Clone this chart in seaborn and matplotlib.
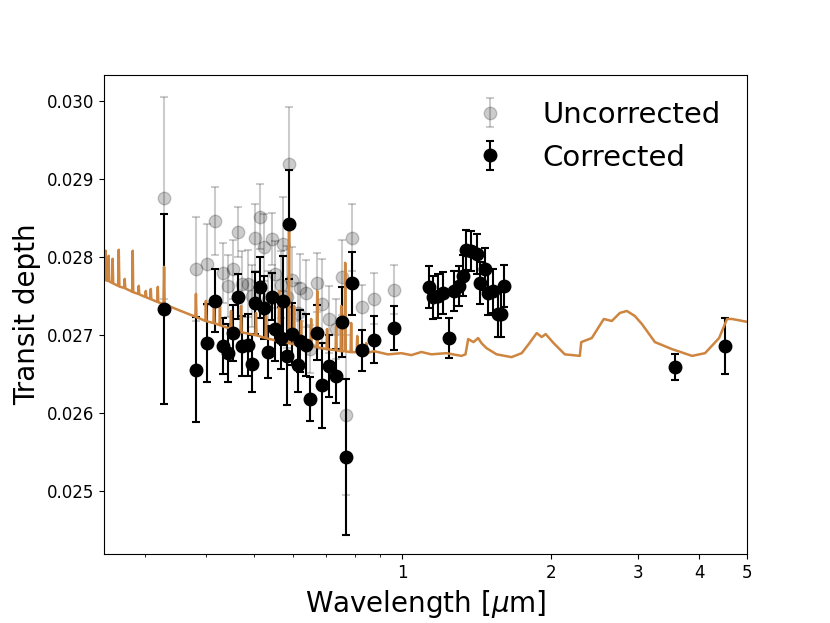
import numpy as np
import matplotlib
matplotlib.use("Agg")
import matplotlib.pyplot as plt
import seaborn as sns
from matplotlib.ticker import FixedLocator, FixedFormatter, NullFormatter, FormatStrFormatter

# optical data (corrected / uncorrected)
opt_wl = [0.329, 0.381, 0.402, 0.417, 0.432, 0.442, 0.454, 0.464, 0.472, 0.486,
          0.495, 0.503, 0.514, 0.523, 0.533, 0.544, 0.552, 0.568, 0.574, 0.584,
          0.590, 0.598, 0.614, 0.621, 0.638, 0.651, 0.671, 0.687, 0.710, 0.732,
          0.754, 0.767, 0.790, 0.829, 0.875, 0.962]
opt_depth = [0.02733, 0.026555, 0.02690, 0.02744, 0.026856, 0.02677, 0.02702, 0.02749, 0.026856, 0.02687,
             0.02663, 0.02741, 0.02761, 0.02735, 0.02678, 0.02749, 0.02707, 0.02696, 0.02744, 0.02673,
             0.02842, 0.02701, 0.02661, 0.02692, 0.02687, 0.02618, 0.02703, 0.02635, 0.02660, 0.02647,
             0.02716, 0.025429, 0.02766, 0.02680, 0.02694, 0.02709]
opt_err = [0.00122, 0.00068, 0.00050, 0.00040, 0.00036, 0.00037, 0.00036, 0.00029, 0.00039, 0.00040,
           0.00037, 0.00040, 0.00039, 0.00040, 0.00033, 0.00030, 0.00040, 0.00040, 0.00057, 0.00063,
           0.00070, 0.00040, 0.00035, 0.00040, 0.00040, 0.00028, 0.00035, 0.00055, 0.00040, 0.00035,
           0.00045, 0.00100, 0.00040, 0.00026, 0.00030, 0.00028]
unc_depth = [0.028759, 0.027844, 0.027906, 0.028460, 0.027796, 0.027629, 0.027844, 0.028316, 0.027651, 0.027658,
             0.027500, 0.028247, 0.028518, 0.028122, 0.027461, 0.028231, 0.027780, 0.027642, 0.028164, 0.027487,
             0.029197, 0.027702, 0.027285, 0.027607, 0.027532, 0.026817, 0.027671, 0.027393, 0.027200, 0.027075,
             0.027741, 0.025973, 0.028244, 0.027354, 0.027464, 0.027581]
unc_err = [0.00130, 0.00067, 0.00052, 0.00044, 0.00039, 0.00040, 0.00038, 0.00032, 0.00042, 0.00043,
           0.00040, 0.00043, 0.00042, 0.00043, 0.00036, 0.00033, 0.00043, 0.00043, 0.00060, 0.00066,
           0.00073, 0.00043, 0.00038, 0.00043, 0.00043, 0.00031, 0.00038, 0.00058, 0.00043, 0.00038,
           0.00048, 0.00103, 0.00043, 0.00029, 0.00033, 0.00031]

# near-infrared data
nir_wl = [1.131, 1.154, 1.182, 1.210, 1.242, 1.274, 1.301, 1.328, 1.349, 1.381,
          1.414, 1.440, 1.470, 1.494, 1.529, 1.560, 1.585, 1.610, 3.578, 4.520]
nir_depth = [0.02762, 0.02748, 0.02750, 0.02754, 0.02696, 0.02756, 0.02763, 0.02776, 0.02809, 0.02808,
             0.02804, 0.02766, 0.02784, 0.02754, 0.02756, 0.02727, 0.02727, 0.02763, 0.02659, 0.02686]
nir_err = [0.00027, 0.00028, 0.00028, 0.00027, 0.00026, 0.00026, 0.00026, 0.00026, 0.00026, 0.00026,
           0.00026, 0.00027, 0.00027, 0.00028, 0.00028, 0.00030, 0.00030, 0.00027, 0.00017, 0.00036]

# model spectrum
model_wl = [0.248,
            0.2495, 0.2502, 0.2509, 0.2530, 0.2537, 0.2544, 0.2578, 0.2585, 0.2592,
            0.2652, 0.2660, 0.2668, 0.2727, 0.2735, 0.2743, 0.2813,
            0.2832, 0.2839, 0.2846, 0.2912, 0.2920, 0.2928, 0.3010, 0.3018, 0.3026,
            0.3081, 0.3089, 0.3097, 0.3184, 0.3192, 0.3200, 0.3278, 0.3287, 0.3296,
            0.3554,
            0.3804, 0.3814, 0.3824, 0.3905,
            0.3986, 0.3996, 0.4006, 0.4139, 0.4149, 0.4159, 0.4257, 0.4267, 0.4277,
            0.4480, 0.4492, 0.4504, 0.4696, 0.4708, 0.4720, 0.5036, 0.5049, 0.5062,
            0.5278, 0.5291, 0.5304, 0.5609, 0.5623, 0.5637, 0.5877, 0.5892, 0.5907,
            0.6017, 0.6032, 0.6047, 0.6217, 0.6233, 0.6249, 0.6515, 0.6532, 0.6549,
            0.6703, 0.6720, 0.6737, 0.7018, 0.7036, 0.7054, 0.7321, 0.7340, 0.7359,
            0.7497, 0.7516, 0.7535, 0.7638, 0.7658, 0.7678, 0.7854, 0.7874, 0.7894,
            0.8080, 0.8101, 0.8122, 0.8428, 0.8450, 0.8472,
            0.8758, 0.9353, 0.9953, 1.043, 1.093, 1.145, 1.228, 1.318, 1.343,
            1.360, 1.394, 1.425, 1.447, 1.481, 1.553, 1.665, 1.746, 1.804,
            1.873, 1.917, 1.953, 2.027, 2.135, 2.290, 2.306, 2.422, 2.562,
            2.659, 2.761, 2.853, 2.962, 3.061, 3.253, 3.522, 3.868, 4.111,
            4.389, 4.555, 4.664, 5.025]
model_depth = [0.027719,
               0.027706, 0.028080, 0.027700, 0.027693, 0.028015, 0.027687, 0.027668, 0.027977, 0.027660,
               0.027629, 0.028093, 0.027620, 0.027603, 0.027719, 0.027596, 0.027564,
               0.027552, 0.028080, 0.027548, 0.027526, 0.027629, 0.027520, 0.027487, 0.027564, 0.027482,
               0.027461, 0.027590, 0.027456, 0.027423, 0.027616, 0.027418, 0.027397, 0.027874, 0.027392,
               0.027307,
               0.027233, 0.027526, 0.027226, 0.027204,
               0.027178, 0.027436, 0.027175, 0.027152, 0.027436, 0.027149, 0.027126, 0.027371, 0.027122,
               0.027078, 0.027307, 0.027072, 0.027036, 0.027371, 0.027033, 0.026997, 0.027281, 0.026994,
               0.026959, 0.027242, 0.026956, 0.026920, 0.027564, 0.026917, 0.026894, 0.028363, 0.026891,
               0.026881, 0.027371, 0.026878, 0.026868, 0.027178, 0.026865, 0.026856, 0.027204, 0.026852,
               0.026843, 0.027564, 0.026840, 0.026817, 0.027075, 0.026814, 0.026804, 0.027113, 0.026801,
               0.026791, 0.027371, 0.026791, 0.026791, 0.027925, 0.026788, 0.026778, 0.027152, 0.026778,
               0.026778, 0.026985, 0.026775, 0.026765, 0.026894, 0.026765,
               0.026791, 0.026749, 0.026765, 0.026740, 0.026780, 0.026750, 0.026765, 0.026730, 0.026750,
               0.026946, 0.026907, 0.026959, 0.026894, 0.026830, 0.026750, 0.026714, 0.026765, 0.026881,
               0.027023, 0.026972, 0.027010, 0.026894, 0.026750, 0.026730, 0.026907, 0.026959, 0.027204,
               0.027178, 0.027281, 0.027307, 0.027242, 0.027139, 0.026907, 0.026817, 0.026730, 0.026765,
               0.026959, 0.027204, 0.027204, 0.027165]

fig, ax = plt.subplots(figsize=(8.3, 6.23), dpi=100)
ax.set_xscale("log")

unc = ax.errorbar(opt_wl, unc_depth, yerr=unc_err, fmt="o", color="k", alpha=0.2,
                  ms=9, capsize=3, elinewidth=1.5, capthick=1.5, zorder=1, label="Uncorrected")

sns.lineplot(x=model_wl, y=model_depth, sort=False, estimator=None, color="peru",
             lw=1.8, ax=ax, zorder=2.5)

cor = ax.errorbar(np.concatenate([opt_wl, nir_wl]), np.concatenate([opt_depth, nir_depth]),
                  yerr=np.concatenate([opt_err, nir_err]), fmt="o", color="k",
                  ms=9, capsize=3, elinewidth=1.5, capthick=1.5, zorder=2, label="Corrected")
cor[0].set_zorder(3)

ax.set_xlim(0.248, 5.0)
ax.set_ylim(0.02418, 0.03034)
ax.xaxis.set_major_locator(FixedLocator([1, 2, 3, 4, 5]))
ax.xaxis.set_major_formatter(FixedFormatter(["1", "2", "3", "4", "5"]))
ax.xaxis.set_minor_locator(FixedLocator([0.3, 0.4, 0.5, 0.6, 0.7, 0.8, 0.9]))
ax.xaxis.set_minor_formatter(NullFormatter())
ax.set_yticks([0.025, 0.026, 0.027, 0.028, 0.029, 0.030])
ax.yaxis.set_major_formatter(FormatStrFormatter("%.3f"))
ax.tick_params(labelsize=12)

ax.set_xlabel(r"Wavelength [$\mu$m]", fontsize=20)
ax.set_ylabel("Transit depth", fontsize=20)
ax.legend(handles=[unc, cor], loc="upper right", frameon=False, fontsize=21)

fig.savefig("out.png", dpi=100)
